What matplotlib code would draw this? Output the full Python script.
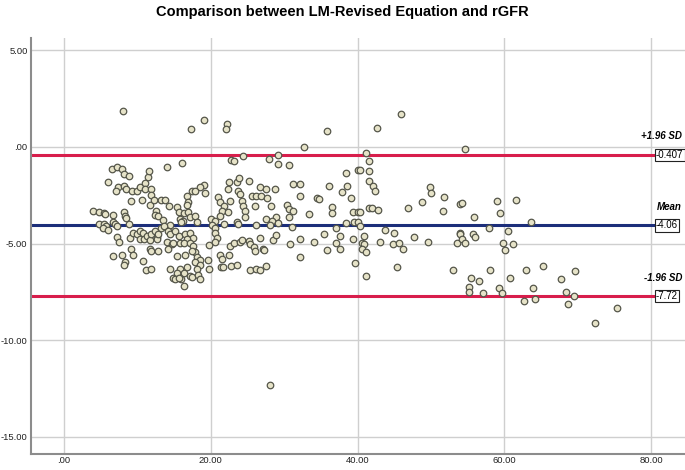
import matplotlib
matplotlib.use("Agg")
import matplotlib.pyplot as plt

plt.rcParams['font.family'] = ['Liberation Sans', 'DejaVu Sans']

title = "Comparison between LM-Revised Equation and rGFR"
mean_diff = -4.06
upper_loa = -0.407
lower_loa = -7.72
x_ticks = [0, 20, 40, 60, 80]
x_tick_labels = [".00", "20.00", "40.00", "60.00", "80.00"]
y_ticks = [5, 0, -5, -10, -15]
y_tick_labels = ["5.00", ".00", "-5.00", "-10.00", "-15.00"]

avg_vals = [
    8.0, 6.5, 7.2, 7.9, 8.2, 8.8, 6.0, 7.4, 7.1, 8.1, 8.5, 9.2, 9.1, 9.9, 10.4, 10.6,
    11.0, 11.5, 11.6, 11.0, 11.9, 11.9, 11.7, 12.2, 12.5, 12.4, 12.8, 13.2, 13.8, 14.0,
    14.3, 13.5, 14.4, 4.0, 4.7, 5.4, 5.6, 6.6, 8.1, 8.3, 8.5, 4.7, 5.4, 5.7, 5.3, 6.0,
    6.7, 7.0, 7.2, 8.8, 7.2, 7.5, 9.0, 9.4, 9.9, 10.4, 10.3, 10.8, 10.9, 11.3, 11.7,
    11.9, 12.4, 12.6, 12.6, 12.8, 13.2, 13.6, 14.2, 14.4, 14.0, 14.7, 11.7, 11.9, 12.8,
    9.1, 9.4, 6.6, 7.9, 8.3, 8.1, 10.8, 11.2, 11.9, 14.2, 14.4, 14.9, 14.8,
    17.3, 19.1, 22.2, 22.1, 16.1, 22.8, 23.2, 24.4, 19.0, 18.5, 19.2, 17.4, 17.8, 16.7,
    16.9, 16.7, 15.4, 15.6, 16.3, 16.9, 17.2, 15.8, 16.2, 17.8, 16.0, 18.1, 20.0, 20.5,
    20.1, 21.0, 21.2, 21.8, 21.5, 21.2, 22.4, 22.6, 22.4, 22.5, 23.5, 23.8, 25.2, 23.7,
    24.0, 24.2, 24.4, 24.7, 24.7, 25.6, 26.2, 26.0, 23.5, 21.8, 20.5, 20.6, 20.8, 20.6,
    19.7, 15.1, 15.6, 16.5, 17.2, 17.6, 16.7, 15.8, 16.3, 17.2, 17.6, 17.8, 17.4, 16.5,
    15.4, 18.1, 18.5, 17.8, 18.5, 18.1, 16.7, 15.8, 15.4, 16.3, 17.2, 17.4, 18.3, 18.5,
    15.9, 16.3, 19.6, 19.8, 21.2, 21.5, 21.4, 21.7, 22.5, 22.8, 23.5, 22.6, 23.1, 24.0,
    24.2, 25.2, 25.3, 25.9, 26.0, 25.3, 26.2, 26.2, 23.7, 15.1, 15.7,
    35.8, 32.7, 27.9, 29.2, 29.1, 30.7, 40.0, 38.4, 26.7, 27.5, 28.7, 31.2, 32.1, 26.9,
    27.7, 32.2, 34.4, 34.7, 36.1, 37.8, 38.5, 39.1, 28.2, 30.4, 30.7, 31.2, 33.4, 36.5,
    36.5, 39.3, 40.1, 27.5, 28.9, 30.6, 28.3, 28.1, 29.1, 31.0, 37.1, 38.4, 39.5, 40.1,
    26.7, 28.4, 28.9, 30.8, 32.1, 34.1, 35.4, 37.6, 37.1, 37.6, 35.8, 39.3, 27.1, 27.2,
    32.2, 27.5, 26.7, 39.6, 28.1,
    45.9, 42.6, 41.1, 41.5, 40.3, 41.5, 41.6, 42.1, 42.4, 49.8, 50.0, 51.8, 48.8, 46.9,
    41.5, 41.9, 42.8, 40.3, 51.6, 53.9, 40.3, 43.7, 44.9, 40.8, 47.7, 53.9, 40.6, 40.9,
    43.1, 44.8, 45.7, 46.2, 49.6, 53.6, 40.6, 41.1, 45.4, 53.0, 41.1,
    54.6, 54.2, 59.0, 61.6, 59.4, 55.9, 57.9, 63.6, 53.9, 54.2, 54.6, 55.7, 56.0, 60.5,
    59.8, 61.2, 60.1, 58.1, 63.0, 65.2, 69.6, 67.7, 55.5, 56.6, 60.8, 55.2, 55.2, 57.1,
    59.3, 59.6, 63.9, 64.2, 62.7, 68.4, 69.5, 68.7, 75.3, 72.3,
]

diff_vals = [
    1.84, -1.13, -1.05, -1.13, -1.4, -1.5, -1.8, -2.05, -2.3, -2.0, -2.2, -2.3, -2.8, -2.3,
    -2.05, -2.75, -1.86, -1.57, -1.22, -2.2, -2.17, -2.5, -3.0, -2.74, -3.3, -3.5, -3.55,
    -2.74, -2.74, -1.05, -3.04, -3.8, -4.04, -3.3, -3.35, -3.4, -3.47, -3.52, -3.35, -3.55,
    -3.7, -4.0, -4.0, -4.08, -4.2, -4.3, -3.87, -4.0, -4.08, -4.0, -4.65, -4.9, -4.7,
    -4.43, -4.5, -4.34, -4.77, -4.48, -4.77, -4.6, -4.82, -4.5, -4.34, -4.65, -4.77, -4.5,
    -4.17, -4.08, -4.34, -4.5, -4.94, -5.03, -5.26, -5.38, -5.38, -5.29, -5.58, -5.64,
    -5.58, -5.98, -6.12, -5.9, -6.38, -6.33, -5.29, -6.3, -6.8, -4.98,
    0.94, 1.38, 1.2, 0.94, -0.82, -0.65, -0.75, -0.48, -1.96, -2.09, -2.4, -2.3, -2.3,
    -2.52, -2.87, -3.0, -3.13, -3.35, -3.42, -3.38, -3.61, -3.73, -3.82, -3.55, -3.9, -3.9,
    -3.73, -3.85, -4.04, -2.6, -2.87, -3.04, -3.3, -3.55, -3.38, -2.78, -2.2, -1.8, -1.8,
    -1.62, -1.74, -2.26, -2.43, -2.78, -3.04, -3.3, -3.65, -2.52, -2.52, -3.04, -3.9, -4.0,
    -4.17, -4.43, -4.69, -4.91, -5.08, -4.34, -4.6, -4.5, -4.43, -4.69, -4.74, -4.95,
    -4.98, -4.98, -5.12, -5.46, -5.38, -5.6, -5.64, -5.72, -5.86, -5.98, -6.12, -6.3, -6.2,
    -6.33, -6.55, -6.5, -6.68, -6.73, -6.64, -6.82, -6.82, -7.2, -5.86, -6.3, -5.6, -5.81,
    -6.19, -6.24, -5.6, -6.16, -6.12, -5.12, -4.95, -4.91, -4.82, -4.86, -5.03, -5.2,
    -5.38, -6.36, -6.3, -4.03, -4.0, -6.85, -6.76,
    0.82, -0.01, -0.61, -0.44, -0.87, -0.91, -1.18, -1.34, -2.09, -2.17, -2.17, -1.91,
    -1.91, -2.56, -2.66, -2.52, -2.64, -2.69, -2.0, -2.31, -2.0, -2.62, -3.04, -3.0, -3.21,
    -3.3, -3.47, -3.09, -3.44, -3.38, -3.38, -3.73, -3.61, -3.65, -3.82, -4.04, -3.94,
    -4.13, -4.17, -3.94, -3.9, -3.9, -4.69, -4.82, -4.56, -5.03, -4.77, -4.9, -4.5, -4.6,
    -4.98, -5.26, -5.32, -4.74, -5.26, -5.34, -5.69, -6.16, -6.36, -6.02, -12.3,
    1.69, 0.98, -0.3, -0.75, -1.17, -1.26, -1.78, -2.0, -2.26, -2.05, -2.4, -2.57, -2.87,
    -3.14, -3.18, -3.16, -3.25, -3.38, -3.32, -2.97, -4.11, -4.3, -4.48, -4.6, -4.65,
    -4.48, -4.95, -5.0, -4.91, -5.03, -4.95, -5.26, -4.91, -4.95, -5.29, -5.43, -6.19,
    -6.36, -6.68,
    -0.09, -2.92, -2.78, -2.74, -3.44, -3.61, -4.17, -3.9, -4.5, -4.77, -4.98, -4.5, -4.65,
    -4.34, -4.98, -5.0, -5.32, -6.38, -6.35, -6.14, -6.42, -6.83, -6.76, -6.94, -6.76,
    -7.25, -7.5, -7.57, -7.28, -7.57, -7.31, -7.85, -7.97, -7.49, -7.71, -8.11, -8.32,
    -9.13,
]

n = min(len(avg_vals), len(diff_vals))
avg_vals = avg_vals[:n]
diff_vals = diff_vals[:n]

fig = plt.figure(figsize=(6.85, 4.70), dpi=100)
ax = fig.add_axes([0.0453, 0.034, 0.9547, 0.885])

ax.set_xlim(-4.5, 84.6)
ax.set_ylim(-15.9, 5.64)

ax.set_xticks(x_ticks)
ax.set_xticklabels(x_tick_labels)
ax.set_yticks(y_ticks)
ax.set_yticklabels(y_tick_labels)
ax.tick_params(length=0, labelsize=6.8, colors='#222222')
ax.tick_params(axis='x', pad=1.5)
ax.tick_params(axis='y', pad=2.5)

ax.grid(True, color='#cfcfcf', linewidth=1.0)
ax.set_axisbelow(True)
for s in ['top', 'right']:
    ax.spines[s].set_visible(False)
for s in ['left', 'bottom']:
    ax.spines[s].set_color('#8c8c8c')
    ax.spines[s].set_linewidth(1.5)

line_end = 80.4
ax.plot([-4.5, line_end], [upper_loa, upper_loa], color='#d81e4c', lw=2.2, zorder=2)
ax.plot([-4.5, line_end], [mean_diff, mean_diff], color='#1c2e7a', lw=2.2, zorder=2)
ax.plot([-4.5, line_end], [lower_loa, lower_loa], color='#d81e4c', lw=2.2, zorder=2)

ax.scatter(avg_vals, diff_vals, s=22, facecolor='#e6e3c8', edgecolor='#55564a',
           linewidths=0.9, zorder=3)

box = dict(boxstyle='square,pad=0.12', facecolor='white', edgecolor='#222222', lw=0.8)
for val, lab, txt in [(upper_loa, '+1.96 SD', '-0.407'),
                      (mean_diff, 'Mean', '-4.06'),
                      (lower_loa, '-1.96 SD', '-7.72')]:
    ax.text(line_end + 0.25, val, txt, fontsize=7, va='center', ha='left',
            bbox=box, zorder=4, clip_on=False)
    ax.text(84.2, val + 0.95, lab, fontsize=7, fontweight='bold', fontstyle='italic',
            ha='right', va='center', zorder=4, clip_on=False)

fig.text(0.5, 0.975, title, ha='center', va='center', fontsize=10.5, fontweight='bold')

fig.savefig('out.png', dpi=100)
